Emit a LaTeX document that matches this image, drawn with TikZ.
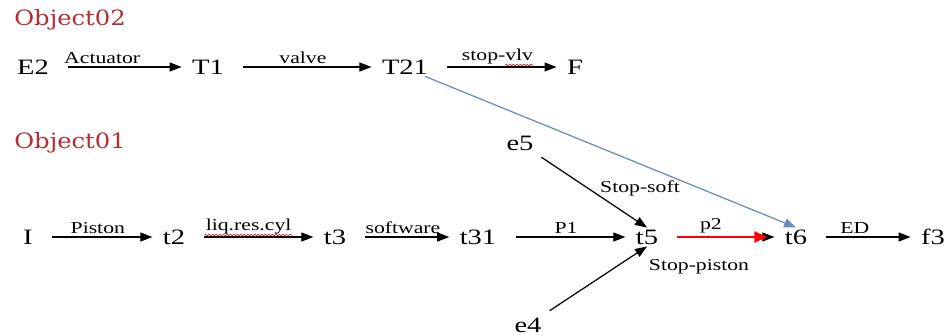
\documentclass[tikz,border=0pt]{standalone}
\usepackage{fontspec}
\setmainfont{Liberation Serif}[FakeStretch=1.3]
\newfontfamily\objfont{DejaVu Serif}[FakeStretch=1.15]
\usepackage{tikz}
\usetikzlibrary{arrows.meta,calc,positioning,decorations.pathmorphing}
\definecolor{objred}{RGB}{180,45,50}
\definecolor{linkblue}{RGB}{100,140,190}

\begin{document}
\begin{tikzpicture}[
    x=0.02cm, y=-0.02cm,
    state/.style={inner sep=1pt, outer xsep=5pt, font=\fontsize{12.5}{14}\selectfont},
    lbl/.style={above, inner sep=1.5pt, font=\fontsize{9.5}{11}\selectfont},
    objtitle/.style={anchor=west, inner sep=0pt, text=objred, font=\objfont\fontsize{12}{14}\selectfont},
    arrow/.style={line width=0.7pt, -{Triangle[length=2.4mm,width=1.8mm]}, shorten <=5pt},
    redarrow/.style={line width=1.2pt, red, -{Triangle[length=2.6mm,width=2.2mm]}, shorten <=5pt, shorten >=4pt},
    bluearrow/.style={line width=0.7pt, linkblue, -{Triangle[length=2.4mm,width=1.8mm]}},
    squig/.style={red!80!black, line width=0.3pt, decorate, decoration={snake, amplitude=0.5pt, segment length=2pt}}
]
    \useasboundingbox (0,0) rectangle (951,335);

    % Object02
    \node (obj2) [objtitle] at (14,20) {Object02};
    \node (E2) [state] at (33,67) {E2};
    \node (T1) [state] at (208,67) {T1};
    \node (T21) [state] at (405,67) {T21};
    \node (F) [state] at (575,67) {F};

    \draw [arrow] (E2) -- node[lbl, pos=0.35] {Actuator} (T1);
    \draw [arrow] (T1) -- node[lbl] {valve} (T21);
    \draw [arrow] (T21) -- node[lbl] (vlv) {stop-vlv} (F);
    \draw [squig] ($(vlv.south west)!0.6!(vlv.south east)+(0,-2)$) -- ($(vlv.south east)+(-3,-2)$);

    % Object01
    \node (obj1) [objtitle] at (14,143) {Object01};
    \node (I) [state] at (28,237) {I};
    \node (t2) [state] at (174,237) {t2};
    \node (t3) [state] at (335,237) {t3};
    \node (t31) [state] at (478,237) {t31};
    \node (t5) [state] at (647,237) {t5};
    \node (t6) [state] at (796,237) {t6};
    \node (f3) [state] at (933,237) {f3};
    \node (e5) [state] at (520,143) {e5};
    \node (e4) [state] at (528,325) {e4};

    \draw [arrow] (I) -- node[lbl] {Piston} (t2);
    \draw [arrow] (t2) -- node[lbl, pos=0.45] (cyl) {liq.res.cyl} (t3);
    \draw [squig] ($(cyl.south west)+(2,-2)$) -- ($(cyl.south east)+(-2,-2)$);
    \draw [arrow] (t3) -- node[lbl] {software} (t31);
    \draw [arrow] (t31) -- node[lbl] {P1} (t5);
    \draw [arrow] (t5) -- (t6);
    \draw [redarrow] (t5) -- node[lbl, black, pos=0.4] {p2} (t6);
    \draw [arrow] (t6) -- node[lbl, pos=0.4] {ED} (f3);

    \draw [arrow] (e5) -- (t5.north);
    \node (soft) [lbl, anchor=center] at (640,188) {Stop-soft};
    \draw [arrow] (e4) -- (t5.south);
    \node (piston) [lbl, anchor=center] at (699,267) {Stop-piston};

    \draw [bluearrow] ($(T21.south)!0.6!(T21.south east)$) -- (t6.north);
\end{tikzpicture}
\end{document}
